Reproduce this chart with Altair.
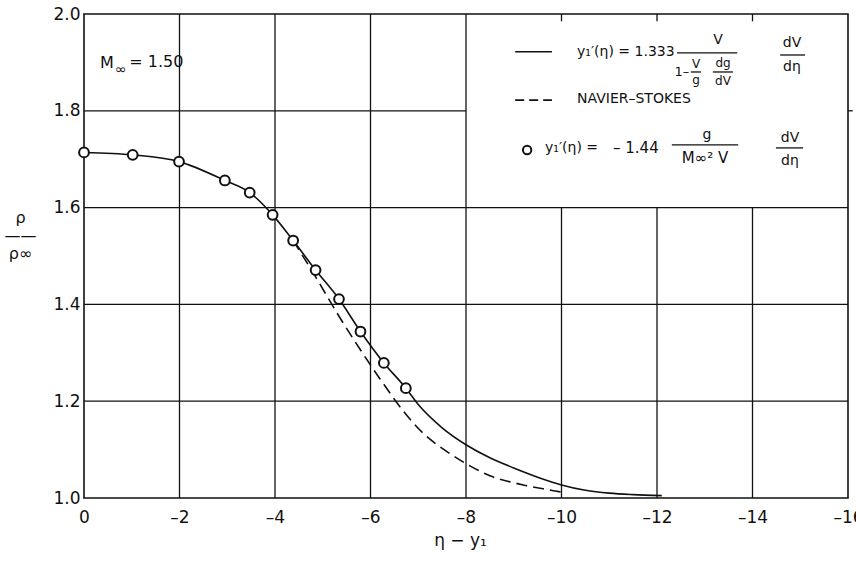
import altair as alt
import pandas as pd

# Circles: y1'(eta) = -1.44 g/(M^2 V) dV/deta
pts_x = [0.0, -1.02, -1.99, -2.95, -3.47, -3.95, -4.38, -4.85, -5.34, -5.79, -6.28, -6.74]
pts_y = [1.714, 1.709, 1.695, 1.656, 1.631, 1.585, 1.532, 1.471, 1.411, 1.344, 1.279, 1.227]

# Solid curve: y1'(eta) = 1.333 V/(1 - V/g dg/dV) dV/deta
solid_x = pts_x + [-7.0, -7.5, -8.0, -8.5, -9.0, -9.5, -10.0, -10.5, -11.0, -11.5, -12.1]
solid_y = pts_y + [1.193, 1.145, 1.110, 1.083, 1.062, 1.043, 1.027, 1.016, 1.010, 1.007, 1.005]

# Dashed curve: Navier-Stokes
ns_x = [-4.38, -4.85, -5.3, -5.75, -6.2, -6.75, -7.1, -7.6, -8.0, -8.5, -9.2, -9.9, -10.0]
ns_y = [1.532, 1.457, 1.382, 1.312, 1.246, 1.172, 1.134, 1.096, 1.071, 1.046, 1.027, 1.014, 1.012]

# Grid lines (upper-right block is kept clear for the key)
grid_x_full = [-2, -4, -6, -8]
grid_x_lower = [-10, -12, -14]
grid_y_full = [1.2, 1.4, 1.6]
grid_y_left = [1.8]

x_ticks = [0, -2, -4, -6, -8, -10, -12, -14, -16]
y_ticks = [1.0, 1.2, 1.4, 1.6, 1.8, 2.0]

INK = "#111111"
FONT = "DejaVu Sans"

X = alt.X(
    "x:Q",
    scale=alt.Scale(domain=[-16, 0], reverse=True),
    axis=alt.Axis(
        values=x_ticks, grid=False, ticks=False, domain=False,
        labelExpr="datum.value == 0 ? '0' : '\u2013' + abs(datum.value)",
        labelFontSize=17, labelPadding=11, labelColor=INK, labelFont=FONT,
        labelFlush=False,
        title="\u03b7 \u2212 y\u2081", titleFontSize=17, titleFont=FONT,
        titleFontWeight="normal", titleColor=INK,
        titleX=376, titleY=42, titleBaseline="middle", titleAlign="center",
    ),
)
Y = alt.Y(
    "y:Q",
    scale=alt.Scale(domain=[1.0, 2.0], zero=False),
    axis=alt.Axis(
        values=y_ticks, format=".1f", grid=False, ticks=False, domain=False,
        labelFontSize=17, labelPadding=4, labelColor=INK, labelFont=FONT,
        labelFlush=False,
        title=["\u03c1", "\u2014\u2014", "\u03c1\u221e"], titleAngle=0,
        titleFontSize=16, titleFont=FONT, titleFontWeight="normal", titleColor=INK,
        titleX=-64, titleY=203, titleAlign="center", titleBaseline="middle",
        titleLineHeight=18,
    ),
)

# grid segments
vrules = pd.DataFrame(
    [{"x": v, "y": 1.0, "y2": 2.0} for v in grid_x_full]
    + [{"x": v, "y": 1.0, "y2": 1.6} for v in grid_x_lower]
    + [{"x": v, "y": 1.985, "y2": 2.0} for v in grid_x_lower]
)
hrules = pd.DataFrame(
    [{"y": v, "x": 0.0, "x2": -16.0} for v in grid_y_full]
    + [{"y": v, "x": 0.0, "x2": -8.0} for v in grid_y_left]
    + [{"y": v, "x": -16.0, "x2": -16.1} for v in grid_y_left]
)

vgrid = alt.Chart(vrules).mark_rule(color=INK, strokeWidth=1.3).encode(
    x=X, y=Y, y2="y2:Q")
hgrid = alt.Chart(hrules).mark_rule(color=INK, strokeWidth=1.3).encode(
    x=X, x2="x2:Q", y=Y)

solid = alt.Chart(pd.DataFrame({"x": solid_x, "y": solid_y})).mark_line(
    color=INK, strokeWidth=1.6, interpolate="monotone").encode(x=X, y=Y)
dashed = alt.Chart(pd.DataFrame({"x": ns_x, "y": ns_y})).mark_line(
    color=INK, strokeWidth=1.6, strokeDash=[11, 6], interpolate="monotone").encode(x=X, y=Y)
circles = alt.Chart(pd.DataFrame({"x": pts_x, "y": pts_y})).mark_point(
    shape="circle", size=95, filled=False, fill="white", fillOpacity=1,
    color=INK, strokeWidth=2, opacity=1).encode(x=X, y=Y)

# key: line samples, marker sample and fraction bars
key_lines = pd.DataFrame([
    {"x": -9.03, "x2": -9.80, "y": 1.922, "kind": "solid"},
    {"x": -9.03, "x2": -9.80, "y": 1.822, "kind": "dash"},
])
key_solid = alt.Chart(key_lines[key_lines.kind == "solid"]).mark_rule(
    color=INK, strokeWidth=1.6).encode(x=X, x2="x2:Q", y=Y)
key_dash = alt.Chart(key_lines[key_lines.kind == "dash"]).mark_rule(
    color=INK, strokeWidth=1.6, strokeDash=[9, 5]).encode(x=X, x2="x2:Q", y=Y)
key_circle = alt.Chart(pd.DataFrame({"x": [-9.28], "y": [1.719]})).mark_point(
    shape="circle", size=70, filled=False, fill="white", fillOpacity=1,
    color=INK, strokeWidth=2, opacity=1).encode(x=X, y=Y)

bars = pd.DataFrame([
    {"x": -12.42, "x2": -13.68, "y": 1.9195},
    {"x": -12.71, "x2": -12.92, "y": 1.8802},
    {"x": -13.17, "x2": -13.59, "y": 1.8802},
    {"x": -14.58, "x2": -15.10, "y": 1.9153},
    {"x": -12.31, "x2": -13.70, "y": 1.7295},
    {"x": -14.49, "x2": -15.06, "y": 1.7233},
])
frac_bars = alt.Chart(bars).mark_rule(color=INK, strokeWidth=1.3).encode(
    x=X, x2="x2:Q", y=Y)

left_text = pd.DataFrame([
    {"t": "M", "x": -0.335, "y": 1.899, "s": 16},
    {"t": "\u221e", "x": -0.649, "y": 1.884, "s": 14},
    {"t": "= 1.50", "x": -0.95, "y": 1.901, "s": 16},
    {"t": "y\u2081\u2032(\u03b7) = 1.333", "x": -10.325, "y": 1.9215, "s": 14},
    {"t": "NAVIER\u2013STOKES", "x": -10.325, "y": 1.8245, "s": 14},
    {"t": "y\u2081\u2032(\u03b7) =", "x": -9.654, "y": 1.7233, "s": 14},
    {"t": "\u2013 1.44", "x": -11.079, "y": 1.7233, "s": 15},
])
center_text = pd.DataFrame([
    {"t": "V", "x": -13.277, "y": 1.9463, "s": 14},
    {"t": "1\u2013", "x": -12.52, "y": 1.880, "s": 13},
    {"t": "V", "x": -12.817, "y": 1.8968, "s": 12},
    {"t": "g", "x": -12.817, "y": 1.8637, "s": 12},
    {"t": "dg", "x": -13.382, "y": 1.8988, "s": 12},
    {"t": "dV", "x": -13.382, "y": 1.8617, "s": 12},
    {"t": "dV", "x": -14.827, "y": 1.9401, "s": 14},
    {"t": "d\u03b7", "x": -14.827, "y": 1.8906, "s": 14},
    {"t": "g", "x": -13.047, "y": 1.7502, "s": 14},
    {"t": "M\u221e\u00b2 V", "x": -13.005, "y": 1.7027, "s": 15},
    {"t": "dV", "x": -14.785, "y": 1.7440, "s": 14},
    {"t": "d\u03b7", "x": -14.785, "y": 1.6965, "s": 14},
])
txt_left = alt.Chart(left_text).mark_text(
    align="left", baseline="middle", font=FONT, color=INK).encode(
    x=X, y=Y, text="t:N", size=alt.Size("s:Q", scale=None, legend=None))
txt_center = alt.Chart(center_text).mark_text(
    align="center", baseline="middle", font=FONT, color=INK).encode(
    x=X, y=Y, text="t:N", size=alt.Size("s:Q", scale=None, legend=None))

chart = alt.layer(
    vgrid, hgrid, dashed, solid, circles,
    key_solid, key_dash, key_circle, frac_bars, txt_left, txt_center,
).properties(
    width=764, height=484,
    autosize="none",
    padding={"left": 84, "top": 14, "right": 8, "bottom": 64},
    background="white",
).configure_view(stroke=INK, strokeWidth=1.6)

chart.save("out.html", embed_options={"renderer": "svg", "actions": False})
